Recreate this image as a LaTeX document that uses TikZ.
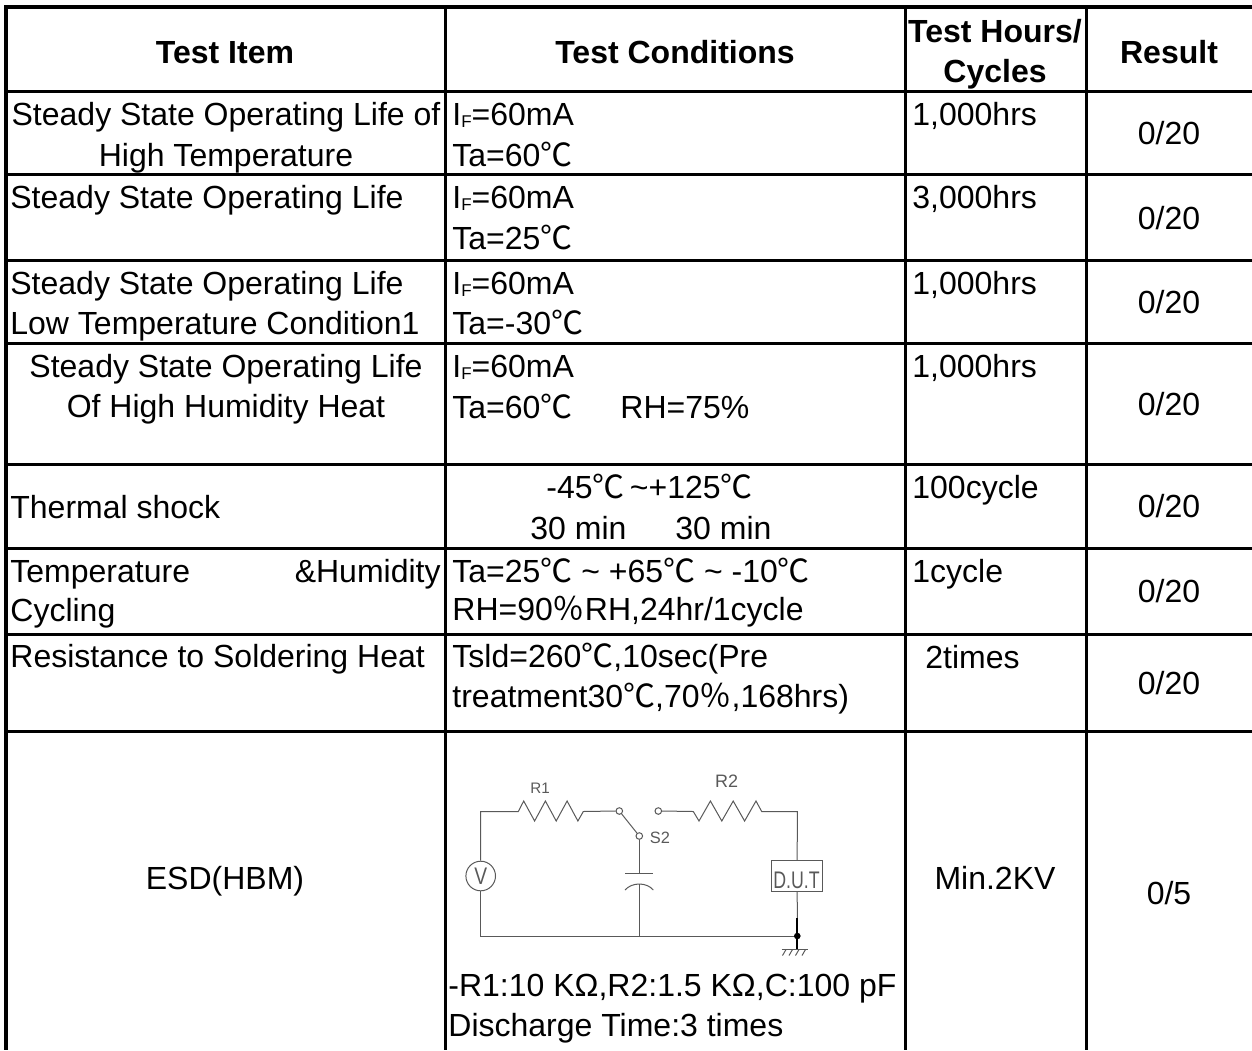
\documentclass[tikz,border=0pt]{standalone}
\usepackage{fontspec}
\setmainfont{Liberation Sans}
\newfontfamily\cjk{Noto Sans CJK SC}
\newcommand\dC{{\cjk ℃}}
\newcommand\pc{{\cjk ％}}
\newcommand\IF{I\raisebox{-1.2pt}{\fontsize{8.5pt}{10pt}\selectfont F}}
\tikzset{
  txt/.style={inner sep=0pt, font=\fontsize{16pt}{20.5pt}\selectfont},
  tl/.style={txt, anchor=base west},
  tc/.style={txt, anchor=base},
  tr/.style={txt, anchor=base east},
  hd/.style={txt, anchor=base, font=\fontsize{16pt}{20.5pt}\selectfont\bfseries},
  gridline/.style={line width=1.5pt, draw=black},
  ckt/.style={line width=0.5pt, draw=black!65},
  ctext/.style={inner sep=0pt, text=black!65},
  term/.style={circle, draw=black!65, line width=0.5pt, fill=white, minimum size=3.3pt, inner sep=0pt},
}
\begin{document}
\begin{tikzpicture}[x=0.5pt,y=-0.5pt]
\useasboundingbox (0,0) rectangle (1252,1050);
% ---------- grid ----------
\foreach \yy in {91,174,260,343,464,548,634,731} \draw[gridline] (6,\yy) -- (1252,\yy);
\draw[gridline, line width=2pt] (4,7) -- (1252,7);
\foreach \xx in {445,905,1086} \draw[gridline] (\xx,7) -- (\xx,1050);
\draw[gridline, line width=2.25pt] (6,5) -- (6,1050);
% ---------- header ----------
\node[hd] (h1) at (225,63) {Test Item};
\node[hd] (h2) at (675,63) {Test Conditions};
\node[hd] (h3a) at (995,42) {Test Hours/};
\node[hd] (h3b) at (995,82) {Cycles};
\node[hd] (h4) at (1169,63) {Result};
% ---------- row 1 ----------
\node[tc] (a1a) at (226,125) {Steady State Operating Life of};
\node[tc] (a1b) at (226,166) {High Temperature};
\node[tl] (b1a) at (452,125) {\IF=60mA};
\node[tl] (b1b) at (452,166) {Ta=60\dC};
\node[tl] (c1) at (912,125) {1,000hrs};
\node[tc] (d1) at (1169,144) {0/20};
% ---------- row 2 ----------
\node[tl] (a2) at (10,208) {Steady State Operating Life};
\node[tl] (b2a) at (452,208) {\IF=60mA};
\node[tl] (b2b) at (452,249) {Ta=25\dC};
\node[tl] (c2) at (912,208) {3,000hrs};
\node[tc] (d2) at (1169,229) {0/20};
% ---------- row 3 ----------
\node[tl] (a3a) at (10,294) {Steady State Operating Life};
\node[tl] (a3b) at (10,334) {Low Temperature Condition1};
\node[tl] (b3a) at (452,294) {\IF=60mA};
\node[tl] (b3b) at (452,334) {Ta=-30\dC};
\node[tl] (c3) at (912,294) {1,000hrs};
\node[tc] (d3) at (1169,313) {0/20};
% ---------- row 4 ----------
\node[tc] (a4a) at (226,377) {Steady State Operating Life};
\node[tc] (a4b) at (226,417) {Of High Humidity Heat};
\node[tl] (b4a) at (452,377) {\IF=60mA};
\node[tl] (b4b) at (452,418) {Ta=60\dC};
\node[tl] (b4c) at (620,418) {RH=75\%};
\node[tl] (c4) at (912,377) {1,000hrs};
\node[tc] (d4) at (1169,415) {0/20};
% ---------- row 5 ----------
\node[tl] (a5) at (10,518) {Thermal shock};
\node[tl] (b5a) at (546,498) {-45\dC\,\char`\~+125\dC};
\node[tl] (b5b) at (530,539) {30 min};
\node[tl] (b5c) at (675,539) {30 min};
\node[tl] (c5) at (912,498) {100cycle};
\node[tc] (d5) at (1169,517) {0/20};
% ---------- row 6 ----------
\node[tl] (a6a) at (10,582) {Temperature};
\node[tr] (a6b) at (441,582) {\&Humidity};
\node[tl] (a6c) at (10,621) {Cycling};
\node[tl] (b6a) at (452,582) {Ta=25\dC{} \char`\~{} +65\dC{} \char`\~{} -10\dC};
\node[tl] (b6b) at (452,620) {RH=90\pc RH,24hr/1cycle};
\node[tl] (c6) at (912,582) {1cycle};
\node[tc] (d6) at (1169,602) {0/20};
% ---------- row 7 ----------
\node[tl] (a7) at (10,667) {Resistance to Soldering Heat};
\node[tl] (b7a) at (452,667) {Tsld=260\dC,10sec(Pre};
\node[tl] (b7b) at (452,707) {treatment30\dC,70\pc,168hrs)};
\node[tl] (c7) at (925,668) {2times};
\node[tc] (d7) at (1169,694) {0/20};
% ---------- row 8 ----------
\node[tc] (a8) at (225,889) {ESD(HBM)};
\node[tc] (c8) at (995,889) {Min.2KV};
\node[tc] (d8) at (1169,904) {0/5};
\node[tl] (b8a) at (448,996) {-R1:10 K\symbol{"03A9},R2:1.5 K\symbol{"03A9},C:100 pF};
\node[tl] (b8b) at (448,1036) {Discharge Time:3 times};
% ---------- circuit ----------
\node[circle, draw=black!65, line width=0.5pt, minimum size=14.8pt, inner sep=0pt, text=black!65,
      font=\fontsize{12pt}{12pt}\selectfont] (vs) at (480.7,876) {\scalebox{0.8}[1]{V}};
\node[term] (sw1) at (619.3,811) {};
\node[term] (sw2) at (639.3,836) {};
\node[term] (sw3) at (658.3,811) {};
\node[draw=black!65, line width=0.5pt, minimum width=25.5pt, minimum height=15.35pt, inner sep=0pt] (dut) at (797.2,876.3) {};
\node[ctext, anchor=base west, font=\fontsize{12pt}{12pt}\selectfont] (duttxt) at (773,888) {\scalebox{0.74}[1]{D.U.T}};
\node[ctext, anchor=base, font=\fontsize{7.6pt}{8pt}\selectfont] (r1lbl) at (540,793.5) {R1};
\node[ctext, anchor=base, font=\fontsize{9pt}{9pt}\selectfont] (r2lbl) at (726.7,787) {R2};
\node[ctext, anchor=base west, font=\fontsize{8.2pt}{9pt}\selectfont] (s2lbl) at (649.5,843.3) {S2};
\coordinate (tl) at (480.7,811.5);
\coordinate (bl) at (480.7,936);
\coordinate (gnd) at (797.3,936);
\coordinate (tr) at (797.3,811.5);
% left loop
\draw[ckt] (vs.north) -- (tl) -- (518.3,811.5)
   -- (523.7,801) -- (534.6,821) -- (545.4,801) -- (556.2,821) -- (567.1,801) -- (577.9,821)
   -- (583.3,811.5) -- (sw1.west);
\draw[ckt] (vs.south) -- (bl) -- (gnd);
\draw[ckt] (sw1) -- (sw2);
% capacitor
\draw[ckt] (sw2.south) -- (639.3,873.3);
\draw[ckt] (625,873.3) -- (653.3,873.3);
\draw[ckt] (625,890) .. controls (632,882) and (646.6,882) .. (653.3,890);
\draw[ckt] (639.3,884) -- (639.3,936);
% right branch
\draw[ckt] (sw3.east) -- (693.3,811.5)
   -- (699,821) -- (710.4,801) -- (721.8,821) -- (733.2,801) -- (744.6,821) -- (756,801)
   -- (761.7,811.5) -- (tr) -- (dut.north);
\draw[ckt] (dut.south) -- (797.3,918);
\draw[line width=1pt] (797.3,918) -- (797.3,949.3);
\fill (gnd) circle[radius=1.65pt];
% ground
\draw[ckt] (781.7,949.3) -- (808.3,949.3);
\foreach \hx in {785,791.5,798,804.5} \draw[ckt] (\hx-2.5,955.5) -- (\hx+1,949.5);
\end{tikzpicture}
\end{document}
